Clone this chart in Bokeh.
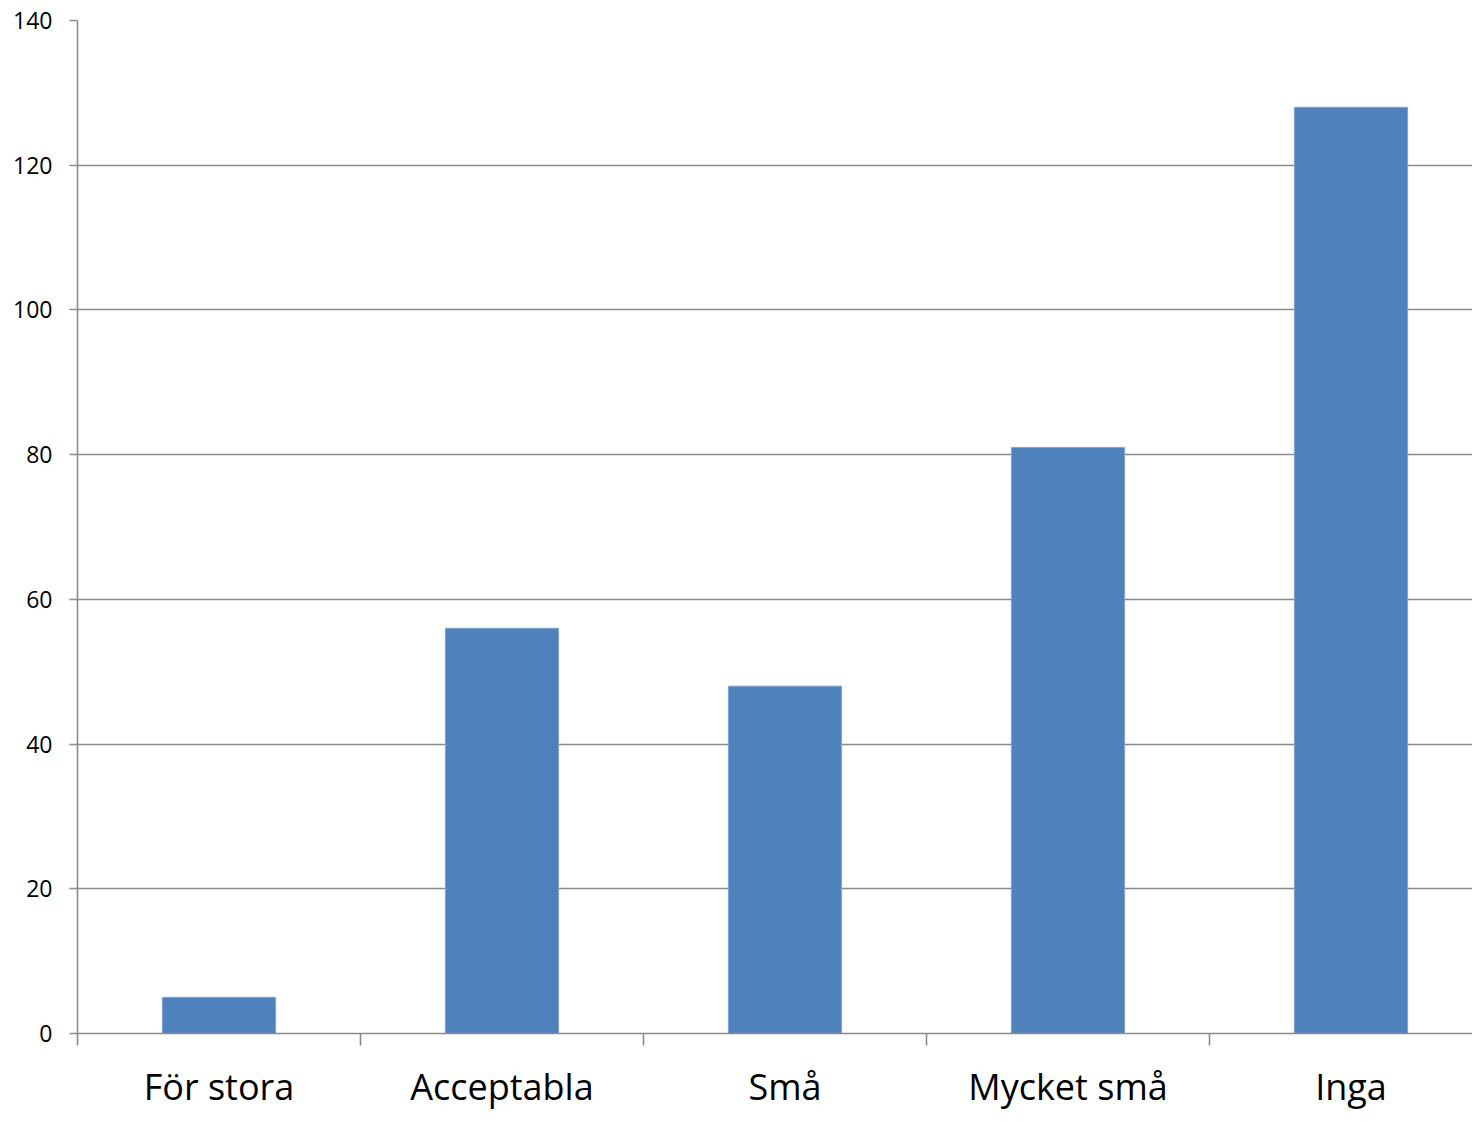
import numpy as np
from bokeh.plotting import figure
from bokeh.models import Range1d, FixedTicker
from bokeh.embed import file_html
from bokeh.resources import INLINE

categories = ["För stora", "Acceptabla", "Små", "Mycket små", "Inga"]
values = [5, 56, 48, 81, 128]
y_ticks = [0, 20, 40, 60, 80, 100, 120, 140]

n = len(categories)
centers = list(np.arange(n) + 0.5)
bounds = list(np.arange(n + 1).astype(float))

W, H = 1472, 1113
left, top, bottom = 77, 20, 74

p = figure(width=W, height=H, output_backend="svg", toolbar_location=None,
           x_range=Range1d(0, (W - left) / 283), y_range=Range1d(0, 140),
           min_border_left=left, min_border_right=0, min_border_top=top, min_border_bottom=bottom)
p.outline_line_color = None
p.background_fill_color = "white"
p.border_fill_color = "white"

p.vbar(x=centers, top=values, width=0.4, fill_color="#4F81BD",
       line_color="#7FA3D0", line_width=1)

grid_color = "#8A8A8A"
p.xgrid.visible = False
p.ygrid.ticker = FixedTicker(ticks=y_ticks)
p.ygrid.grid_line_color = grid_color
p.ygrid.grid_line_width = 1.6

# x axis
xa = p.xaxis[0]
xa.ticker = FixedTicker(ticks=centers, minor_ticks=bounds)
xa.major_label_overrides = {c: lab for c, lab in zip(centers, categories)}
xa.major_tick_line_color = None
xa.major_tick_in = 0
xa.major_tick_out = 12
xa.minor_tick_in = 0
xa.minor_tick_out = 12
xa.minor_tick_line_color = grid_color
xa.minor_tick_line_width = 1.6
xa.axis_line_color = grid_color
xa.axis_line_width = 1.6
xa.major_label_text_font = "Open Sans"
xa.major_label_text_font_size = "36px"
xa.major_label_text_color = "black"
xa.major_label_standoff = 16

# y axis
ya = p.yaxis[0]
ya.ticker = FixedTicker(ticks=y_ticks)
ya.major_tick_in = 0
ya.major_tick_out = 8
ya.minor_tick_line_color = None
ya.major_tick_line_color = grid_color
ya.major_tick_line_width = 1.6
ya.axis_line_color = grid_color
ya.axis_line_width = 1.6
ya.major_label_text_font = "Open Sans"
ya.major_label_text_font_size = "23px"
ya.major_label_text_color = "black"
ya.major_label_standoff = 17

open("out.html", "w").write(file_html(p, INLINE))
